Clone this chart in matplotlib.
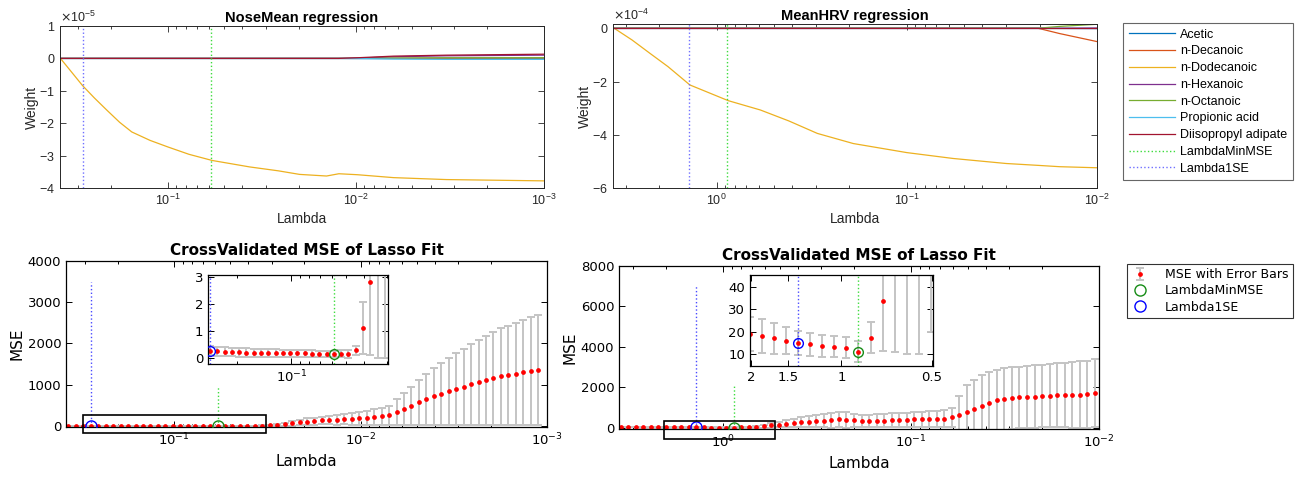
import numpy as np
import matplotlib
matplotlib.use("Agg")
import matplotlib.pyplot as plt
from matplotlib.patches import Rectangle
from matplotlib.ticker import (ScalarFormatter, FixedLocator, FixedFormatter,
                               NullLocator, NullFormatter)

plt.rcParams["axes.unicode_minus"] = False
plt.rcParams["font.family"] = ["DejaVu Sans"]

W, H = 1309, 479

predictors = ["Acetic", "n-Decanoic", "n-Dodecanoic", "n-Hexanoic", "n-Octanoic",
              "Propionic acid", "Diisopropyl adipate"]
colors = ["#0072BD", "#D95319", "#EDB120", "#7E2F8E", "#77AC30", "#4DBEEE", "#A2142F"]

# ---- NoseMean coefficient trace (weights in 1e-5) ----
nose_lambda = [0.371, 0.325, 0.283, 0.245, 0.21, 0.18, 0.155, 0.124, 0.1, 0.077,
               0.058, 0.0366, 0.0258, 0.0199, 0.0143, 0.0123, 0.0098, 0.0063, 0.0033, 0.001]
nose_acetic = [0, 0, 0, 0, 0, 0, 0, 0, 0, 0, 0, 0, 0, 0, 0, 0, 0, 0, 0, 0]
nose_decanoic = [0, 0, 0, 0, 0, 0, 0, 0, 0, 0, 0, 0, 0, 0, 0, 0, 0, 0, 0.005, 0.01]
nose_dodecanoic = [0, -0.41, -0.84, -1.22, -1.6, -1.97, -2.27, -2.53, -2.73, -2.96,
                   -3.15, -3.35, -3.47, -3.58, -3.63, -3.56, -3.59, -3.68, -3.74, -3.78]
nose_hexanoic = [0, 0, 0, 0, 0, 0, 0, 0, 0, 0, 0, 0, 0, 0, 0, 0, 0.01, 0.05, 0.08, 0.10]
nose_octanoic = [0, 0, 0, 0, 0, 0, 0, 0, 0, 0, 0, 0, 0, 0, 0, 0, 0, 0.01, 0.02, 0.02]
nose_propionic = [0, 0, 0, 0, 0, 0, 0, 0, 0, 0, 0, 0, 0, 0, 0, 0, -0.005, -0.02, -0.03, -0.03]
nose_diisopropyl = [0, 0, 0, 0, 0, 0, 0, 0, 0, 0, 0, 0, 0, 0, 0, 0, 0.02, 0.07, 0.10, 0.13]

# ---- MeanHRV coefficient trace (weights in 1e-4) ----
hrv_lambda = [3.45, 2.78, 2.24, 1.80, 1.38, 0.867, 0.588, 0.417, 0.295, 0.191,
              0.1, 0.0572, 0.03, 0.0204, 0.0157, 0.01]
hrv_acetic = [0, 0, 0, 0, 0, 0, 0, 0, 0, 0, 0, 0, 0, 0, -0.005, -0.01]
hrv_decanoic = [0, 0, 0, 0, 0, 0, 0, 0, 0, 0, 0, 0, 0, 0, -0.2, -0.5]
hrv_dodecanoic = [0, -0.44, -0.94, -1.44, -2.13, -2.72, -3.07, -3.48, -3.95, -4.33,
                  -4.67, -4.89, -5.08, -5.15, -5.2, -5.24]
hrv_hexanoic = [0, 0, 0, 0, 0, 0, 0, 0, 0, 0, 0, 0, 0, 0, 0, 0.01]
hrv_octanoic = [0, 0, 0, 0, 0, 0, 0, 0, 0, 0, 0, 0, 0, 0, 0.07, 0.15]
hrv_propionic = [0, 0, 0, 0, 0, 0, 0, 0, 0, 0, 0, 0, 0, 0, 0, 0]
hrv_diisopropyl = [0, 0, 0, 0, 0, 0, 0, 0, 0, 0, 0, 0, 0, 0, 0, 0]

# ---- cross-validated MSE, NoseMean (lasso lambda grid, 25 per decade) ----
nose_cv_lambda = np.geomspace(0.369, 0.369 * 10 ** -2.52, 64)
nose_mse = [0.28, 0.275, 0.27, 0.26, 0.24, 0.22, 0.21, 0.20, 0.19, 0.185, 0.18, 0.175,
            0.17, 0.168, 0.165, 0.162, 0.16, 0.158, 0.155, 0.152, 0.148, 0.15, 0.155,
            0.28, 1.1, 2.8, 6, 12, 20, 40, 57, 80, 100, 115, 130, 140, 145, 157, 168,
            184, 199, 216, 228, 256, 340, 416, 486, 570, 646, 712, 778, 834, 894, 952,
            1010, 1062, 1110, 1150, 1196, 1230, 1260, 1295, 1332, 1365]
nose_upper = [0.46, 0.45, 0.44, 0.43, 0.41, 0.39, 0.37, 0.36, 0.35, 0.34, 0.33, 0.32,
              0.31, 0.30, 0.29, 0.285, 0.28, 0.27, 0.265, 0.26, 0.25, 0.27, 0.30,
              0.45, 2.05, 5.5, 12, 24, 40, 75, 110, 150, 180, 200, 220, 235, 260, 280, 306,
              338, 368, 402, 426, 482, 650, 802, 942, 1110, 1262, 1394, 1526, 1638, 1758,
              1874, 1990, 2094, 2190, 2270, 2362, 2430, 2490, 2560, 2634, 2700]
nose_i_min, nose_i_1se = 20, 3

# ---- cross-validated MSE, MeanHRV ----
hrv_cv_lambda = np.geomspace(3.49, 3.49 * 10 ** -2.52, 64)
hrv_mse = [24, 23.5, 22.5, 21.5, 20.5, 19.8, 19.0, 18.2, 17.0, 16.0, 15.1, 14.4, 13.6,
           13.2, 12.9, 11.0, 17.4, 34, 55, 80, 115, 160, 210, 245, 280, 310, 340, 360,
           375, 410, 390, 375, 330, 330, 340, 360, 375, 375, 390, 410, 425, 425, 440, 455,
           520, 650, 770, 930, 1060, 1220, 1355, 1420, 1470, 1500, 1520, 1535, 1570, 1585,
           1600, 1615, 1615, 1630, 1650, 1715]
hrv_upper = [32, 31, 30, 29, 28, 27, 26.5, 25.9, 23.8, 22, 20.5, 19.5, 18.6, 17.9, 17.5,
             15.7, 24.4, 56.7, 99, 150, 220, 300, 380, 450, 520, 580, 640, 700, 740, 790,
             770, 700, 620, 630, 660, 690, 710, 730, 750, 770, 790, 810, 830, 860, 980,
             1550, 2120, 2370, 2610, 2775, 2860, 2940, 2990, 3020, 3050, 3085, 3120, 3150,
             3185, 3215, 3250, 3280, 3315, 3380]
hrv_i_min, hrv_i_1se = 15, 10

TOP_FONT = "Liberation Sans"
GREEN_LINE = "#3ddc3d"
BLUE_LINE = "#6f6fff"
BLUE_CV = "#4a4aff"

fig = plt.figure(figsize=(W / 100, H / 100), dpi=100)


def px_axes(x0, y0, x1, y1):
    return fig.add_axes([x0 / W, 1 - y1 / H, (x1 - x0) / W, (y1 - y0) / H])


def style_top(ax):
    ax.set_xscale("log")
    ax.tick_params(which="both", direction="in", top=True, right=True,
                   colors="#262626", labelsize=9, width=0.6,
                   labelfontfamily=TOP_FONT)
    ax.tick_params(which="major", length=4)
    ax.tick_params(which="minor", length=2)
    for s in ax.spines.values():
        s.set_color("#262626")
        s.set_linewidth(0.7)
    fmt = ScalarFormatter(useMathText=True)
    fmt.set_powerlimits((0, 0))
    ax.yaxis.set_major_formatter(fmt)
    ax.yaxis.get_offset_text().set_family(TOP_FONT)
    ax.yaxis.get_offset_text().set_fontsize(9)
    ax.yaxis.set_minor_locator(NullLocator())


def trace_panel(ax, lam, series, scale, lam_min, lam_1se, title, xlim, ylim, yticks):
    for name, col, vals in zip(predictors, colors, series):
        ax.plot(lam, np.array(vals) * scale, color=col, lw=0.9, label=name)
    ax.axvline(lam_min, color=GREEN_LINE, ls=":", lw=1.0, label="LambdaMinMSE")
    ax.axvline(lam_1se, color=BLUE_LINE, ls=":", lw=1.0, label="Lambda1SE")
    style_top(ax)
    ax.set_xlim(*xlim)
    ax.set_ylim(*ylim)
    ax.set_yticks(np.array(yticks) * scale)
    ax.set_title(title, fontsize=10.5, fontweight="bold", family=TOP_FONT, pad=3)
    ax.set_xlabel("Lambda", fontsize=10, family=TOP_FONT, color="#262626", labelpad=3)
    ax.set_ylabel("Weight", fontsize=10, family=TOP_FONT, color="#262626", labelpad=0)


def style_bottom(ax, labelsize=9.5):
    ax.tick_params(which="both", direction="in", top=True, right=True,
                   colors="black", labelsize=labelsize, width=0.7)
    ax.tick_params(which="major", length=4)
    ax.tick_params(which="minor", length=2)
    for s in ax.spines.values():
        s.set_color("black")
        s.set_linewidth(0.9)


def cv_marks(ax, lam, mse, upper, i_min, i_1se, ms_circle=8):
    mse = np.array(mse)
    err = np.array(upper) - mse
    eb = ax.errorbar(lam, mse, yerr=err, fmt="o", ms=2.4, mfc="red", mec="red",
                     ecolor="#c4c4c4", elinewidth=1.4, capsize=3.2, capthick=1.4,
                     label="MSE with Error Bars", zorder=2)
    g, = ax.plot(lam[i_min], mse[i_min], "o", mfc="none", mec="#168c16", ms=ms_circle,
                 mew=1.0, label="LambdaMinMSE", zorder=4)
    b, = ax.plot(lam[i_1se], mse[i_1se], "o", mfc="none", mec="#0000ff", ms=ms_circle,
                 mew=1.0, label="Lambda1SE", zorder=4)
    return eb, g, b


# ---------------- top row ----------------
ax_tl = px_axes(60, 26, 544, 188)
trace_panel(ax_tl, nose_lambda,
            [nose_acetic, nose_decanoic, nose_dodecanoic, nose_hexanoic, nose_octanoic,
             nose_propionic, nose_diisopropyl],
            1e-5, nose_cv_lambda[nose_i_min], nose_cv_lambda[nose_i_1se],
            "NoseMean regression", (0.373, 0.001), (-4e-5, 1e-5), [-4, -3, -2, -1, 0, 1])

ax_tr = px_axes(613, 24, 1097, 188)
trace_panel(ax_tr, hrv_lambda,
            [hrv_acetic, hrv_decanoic, hrv_dodecanoic, hrv_hexanoic, hrv_octanoic,
             hrv_propionic, hrv_diisopropyl],
            1e-4, hrv_cv_lambda[hrv_i_min], hrv_cv_lambda[hrv_i_1se],
            "MeanHRV regression", (3.5, 0.01), (-6e-4, 0.16e-4), [-6, -4, -2, 0])

h_top, l_top = ax_tl.get_legend_handles_labels()
leg_top = fig.legend(h_top, l_top, loc="upper left", bbox_to_anchor=(1123 / W, 1 - 23 / H),
                     frameon=True, fancybox=False, edgecolor="#404040", borderaxespad=0,
                     prop={"family": TOP_FONT, "size": 9}, handlelength=3.7,
                     handletextpad=0.4, labelspacing=0.38, borderpad=0.45)
leg_top.get_frame().set_linewidth(0.8)

# ---------------- bottom row ----------------
cv_title = "CrossValidated MSE of Lasso Fit"

ax_bl = px_axes(66, 261, 547, 427)
eb, g, b = cv_marks(ax_bl, nose_cv_lambda, nose_mse, nose_upper, nose_i_min, nose_i_1se)
ax_bl.vlines(nose_cv_lambda[nose_i_1se], 0, 3500, colors=BLUE_CV, linestyles=":", lw=1.0)
ax_bl.vlines(nose_cv_lambda[nose_i_min], 0, 950, colors=GREEN_LINE, linestyles=":", lw=1.0)
ax_bl.set_xscale("log")
ax_bl.set_xlim(0.38, 0.001)
ax_bl.set_ylim(-30, 4000)
ax_bl.set_yticks([0, 1000, 2000, 3000, 4000])
style_bottom(ax_bl)
ax_bl.set_title(cv_title, fontsize=11, fontweight="bold", pad=4)
ax_bl.set_xlabel("Lambda", fontsize=11, labelpad=4)
ax_bl.set_ylabel("MSE", fontsize=11, labelpad=2)
ax_bl.add_patch(Rectangle((0.307, -171), 0.0322 - 0.307, 261 + 171, fill=False,
                          ec="black", lw=1.2, clip_on=False, zorder=5))

ax_br = px_axes(619, 266, 1099, 429)
cv_marks(ax_br, hrv_cv_lambda, hrv_mse, hrv_upper, hrv_i_min, hrv_i_1se)
ax_br.vlines(hrv_cv_lambda[hrv_i_1se], 0, 7000, colors=BLUE_CV, linestyles=":", lw=1.0)
ax_br.vlines(hrv_cv_lambda[hrv_i_min], 0, 2100, colors=GREEN_LINE, linestyles=":", lw=1.0)
ax_br.set_xscale("log")
ax_br.set_xlim(3.57, 0.01)
ax_br.set_ylim(-60, 8000)
ax_br.set_yticks([0, 2000, 4000, 6000, 8000])
style_bottom(ax_br)
ax_br.set_title(cv_title, fontsize=11, fontweight="bold", pad=4)
ax_br.set_xlabel("Lambda", fontsize=11, labelpad=4)
ax_br.set_ylabel("MSE", fontsize=11, labelpad=2)
ax_br.add_patch(Rectangle((2.06, -569), 0.529 - 2.06, 312 + 569, fill=False,
                          ec="black", lw=1.2, clip_on=False, zorder=5))

# insets
in_bl = px_axes(208, 275, 388, 364)
cv_marks(in_bl, nose_cv_lambda, nose_mse, nose_upper, nose_i_min, nose_i_1se, ms_circle=7)
in_bl.axvline(nose_cv_lambda[nose_i_1se], color=BLUE_CV, ls=":", lw=1.0)
in_bl.axvline(nose_cv_lambda[nose_i_min], color=GREEN_LINE, ls=":", lw=1.0)
in_bl.set_xscale("log")
in_bl.set_xlim(0.287, 0.0295)
in_bl.set_ylim(-0.23, 3.06)
in_bl.set_yticks([0, 1, 2, 3])
in_bl.xaxis.set_minor_formatter(NullFormatter())
style_bottom(in_bl)
in_bl.set_facecolor("white")

in_br = px_axes(750, 275, 933, 366)
cv_marks(in_br, hrv_cv_lambda, hrv_mse, hrv_upper, hrv_i_min, hrv_i_1se, ms_circle=7)
in_br.axvline(hrv_cv_lambda[hrv_i_1se], color=BLUE_CV, ls=":", lw=1.0)
in_br.axvline(hrv_cv_lambda[hrv_i_min], color=GREEN_LINE, ls=":", lw=1.0)
in_br.set_xscale("log")
in_br.set_xlim(2.015, 0.495)
in_br.set_ylim(4.6, 45.5)
in_br.xaxis.set_major_locator(FixedLocator([2, 1.5, 1, 0.5]))
in_br.xaxis.set_major_formatter(FixedFormatter(["2", "1.5", "1", "0.5"]))
in_br.xaxis.set_minor_locator(NullLocator())
in_br.xaxis.set_minor_formatter(NullFormatter())
in_br.set_yticks([10, 20, 30, 40])
style_bottom(in_br)
in_br.set_facecolor("white")

leg_bot = fig.legend([eb, g, b], ["MSE with Error Bars", "LambdaMinMSE", "Lambda1SE"],
                     loc="upper left", bbox_to_anchor=(1127 / W, 1 - 264 / H),
                     frameon=True, fancybox=False, edgecolor="black", borderaxespad=0,
                     fontsize=9, handlelength=1.3, handletextpad=1.4,
                     labelspacing=0.25, borderpad=0.35)
leg_bot.get_frame().set_linewidth(0.8)

fig.savefig("out.png", dpi=100)
